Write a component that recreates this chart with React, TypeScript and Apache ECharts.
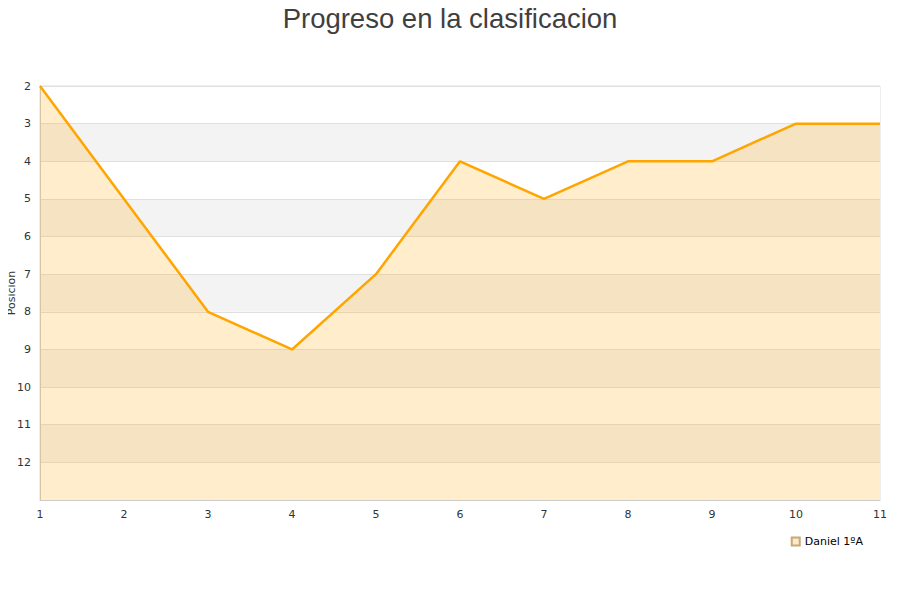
import React, { useEffect, useRef } from "react";
import * as echarts from "echarts";

const jornadas = [1, 2, 3, 4, 5, 6, 7, 8, 9, 10, 11];
const posiciones = [2, 5, 8, 9, 7, 4, 5, 4, 4, 3, 3];
const seriesName = "Daniel 1ºA";
const yAxisName = "Posicion";

export default function App() {
  const ref = useRef<HTMLDivElement>(null);
  useEffect(() => {
    const chart = echarts.init(ref.current!, null, { renderer: "svg" });
    chart.setOption({
      animation: false,
      title: {
        text: "Progreso en la clasificacion",
        left: "center",
        top: -1,
        textStyle: {
          fontFamily: "Liberation Sans, Arial, sans-serif",
          fontSize: 27.5,
          fontWeight: "normal",
          color: "#3f3f3f",
        },
      },
      graphic: [
        {
          type: "text",
          x: 11,
          y: 293,
          rotation: Math.PI / 2,
          style: {
            text: yAxisName,
            fontFamily: "DejaVu Sans, sans-serif",
            fontSize: 11,
            fill: "#333",
            align: "center",
            verticalAlign: "middle",
          },
        },
      ],
      grid: {
        left: 40,
        right: 20,
        top: 86,
        bottom: 100,
        containLabel: false,
        outerBoundsMode: "none",
        show: true,
        borderColor: "#dddddd",
        borderWidth: 1,
        backgroundColor: "transparent",
      },
      legend: {
        data: [seriesName],
        right: 32,
        top: 531,
        icon: "rect",
        itemWidth: 8,
        itemHeight: 8,
        textStyle: { fontFamily: "DejaVu Sans, sans-serif", fontSize: 11, color: "#000" },
      },
      xAxis: {
        type: "value",
        min: 1,
        max: 11,
        interval: 1,
        axisLine: { show: true, lineStyle: { color: "#cccccc" } },
        axisTick: { show: false },
        splitLine: { show: false },
        axisLabel: {
          color: "#333",
          fontFamily: "DejaVu Sans, sans-serif",
          fontSize: 11,
          margin: 9,
        },
      },
      yAxis: {
        type: "value",
        inverse: true,
        min: 2,
        max: 13,
        interval: 1,
        axisLine: { show: true, lineStyle: { color: "#cccccc" } },
        axisTick: { show: false },
        axisLabel: {
          color: "#333",
          fontFamily: "DejaVu Sans, sans-serif",
          fontSize: 11,
          margin: 9,
          showMaxLabel: false,
        },
        splitLine: { show: true, lineStyle: { color: "#e0e0e0" } },
        splitArea: { show: true, areaStyle: { color: ["#ffffff", "#f3f3f3"] } },
      },
      series: [
        {
          name: seriesName,
          type: "line",
          data: jornadas.map((j, i) => [j, posiciones[i]]),
          symbol: "none",
          lineStyle: { color: "#ffa500", width: 2.5 },
          itemStyle: { color: "#fde9c6", borderColor: "#c8a878", borderWidth: 1 },
          areaStyle: { color: "#ffa500", opacity: 0.2, origin: "end" },
        },
      ],
    });
    return () => chart.dispose();
  }, []);
  return <div ref={ref} style={{ width: 900, height: 600, marginLeft: -8, marginTop: -8 }} />;
}
